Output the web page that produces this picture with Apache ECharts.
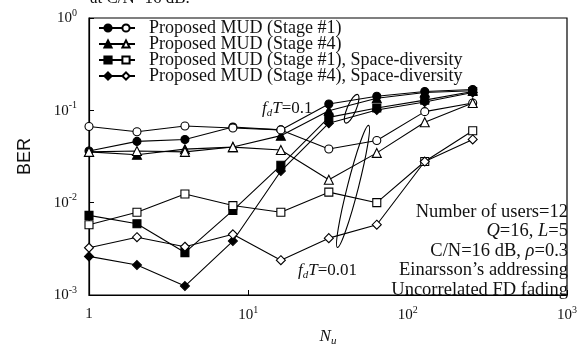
<!DOCTYPE html>
<html><head><meta charset="utf-8">
<script src="https://cdn.jsdelivr.net/npm/echarts@6/dist/echarts.min.js"></script>
<style>html,body{margin:0;padding:0;background:#fff}#c{width:580px;height:352px}</style>
</head><body><div id="c"></div>
<script>
// Number of users axis values N_u
const users = [1, 2, 4, 8, 16, 32, 64, 128, 256];
// fdT = 0.1 (filled markers)
const stage1_fd01   = [0.0363, 0.0461, 0.0484, 0.066, 0.0614, 0.117, 0.142, 0.160, 0.168];
const stage4_fd01   = [0.0355, 0.033, 0.038, 0.040, 0.0532, 0.099, 0.135, 0.156, 0.163];
const stage1sd_fd01 = [0.00729, 0.0059, 0.00288, 0.00826, 0.0254, 0.0839, 0.106, 0.129, 0.160];
const stage4sd_fd01 = [0.00262, 0.00211, 0.00125, 0.00384, 0.0220, 0.0726, 0.101, 0.123, 0.156];
// fdT = 0.01 (open markers)
const stage1_fd001   = [0.0667, 0.0586, 0.0676, 0.0644, 0.0614, 0.0381, 0.0472, 0.0968, 0.120];
const stage4_fd001   = [0.0355, 0.0363, 0.0355, 0.040, 0.0372, 0.0177, 0.0346, 0.0744, 0.120];
const stage1sd_fd001 = [0.00577, 0.00787, 0.0124, 0.0093, 0.00787, 0.0130, 0.0100, 0.0279, 0.060];
const stage4sd_fd001 = [0.00325, 0.00423, 0.00333, 0.00454, 0.00238, 0.00413, 0.00577, 0.0279, 0.0484];

const legendLabels = ['Proposed MUD (Stage #1)', 'Proposed MUD (Stage #4)',
  'Proposed MUD (Stage #1), Space-diversity', 'Proposed MUD (Stage #4), Space-diversity'];
const xTickLabels = {1: '1', 10: '{b|10}{s|1}', 100: '{b|10}{s|2}', 1000: '{b|10}{s|3}'};
const yTickLabels = {0.001: '{b|10}{s|-3}', 0.01: '{b|10}{s|-2}', 0.1: '{b|10}{s|-1}', 1: '{b|10}{s|0}'};
const notes = ['Number of users=12', '{i|Q}=16, {i|L}=5', 'C/N=16 dB, {i|ρ}=0.3',
  'Einarsson\u2019s addressing', 'Uncorrelated FD fading'];
// annotation anchors in data space [N_u, BER]
const ellipseHigh = [44.5, 0.104];
const ellipseLow = [45.4, 0.0150];

const SERIF = '"Liberation Serif","DejaVu Serif",serif';
const tickRich = {
  b: {fontFamily: SERIF, fontSize: 15, color: '#111', verticalAlign: 'bottom', lineHeight: 16},
  s: {fontFamily: SERIF, fontSize: 10, color: '#111', verticalAlign: 'bottom', lineHeight: 10, padding: [0, 0, 8, 0]}
};

function mk(name, data, symbol, filled, size) {
  return {
    name, type: 'line', data: users.map((n, i) => [n, data[i]]),
    symbol, symbolSize: size, showSymbol: true, animation: false,
    lineStyle: {color: '#000', width: 1.1},
    itemStyle: {color: filled ? '#000' : '#fff', borderColor: '#000', borderWidth: 1.1},
    z: filled ? 3 : 4
  };
}
const filledNames = ['f1', 'f4', 'f1sd', 'f4sd'];
const openNames = ['o1', 'o4', 'o1sd', 'o4sd'];

const chart = echarts.init(document.getElementById('c'), null, {renderer: 'canvas'});
const legendText = {fontFamily: SERIF, fontSize: 18, lineHeight: 15, color: '#111'};
const option = {
  animation: false,
  backgroundColor: '#fff',
  grid: {left: 89, right: 5, top: 18, bottom: 45, show: true, borderColor: '#000', borderWidth: 1.2, backgroundColor: 'transparent'},
  xAxis: [{
    type: 'log', logBase: 10, min: 1, max: 1000,
    axisLine: {show: true, lineStyle: {color: '#000', width: 1.2}},
    axisTick: {show: true, inside: true, length: 5, lineStyle: {color: '#000'}},
    splitLine: {show: false},
    axisLabel: {margin: 12, formatter: v => xTickLabels[Math.round(v)] || '', rich: tickRich, fontFamily: SERIF, fontSize: 15, color: '#111'},
    name: '{n|N}{u|u}', nameLocation: 'middle', nameGap: 33,
    nameTextStyle: {rich: {
      n: {fontFamily: SERIF, fontStyle: 'italic', fontSize: 17, color: '#111', verticalAlign: 'top', lineHeight: 18},
      u: {fontFamily: SERIF, fontStyle: 'italic', fontSize: 11, color: '#111', verticalAlign: 'top', lineHeight: 12, padding: [8, 0, 0, 0]}
    }}
  }],
  yAxis: [{
    type: 'log', logBase: 10, min: 0.001, max: 1,
    axisLine: {show: true, lineStyle: {color: '#000', width: 1.2}},
    axisTick: {show: true, inside: true, length: 5, lineStyle: {color: '#000'}},
    splitLine: {show: false},
    axisLabel: {margin: 12, formatter: v => {
      const k = Object.keys(yTickLabels).find(t => Math.abs(Math.log10(+t) - Math.log10(v)) < 1e-6);
      return k ? yTickLabels[k] : '';
    }, rich: tickRich},
    name: 'BER', nameLocation: 'middle', nameGap: 55,
    nameTextStyle: {fontFamily: '"Liberation Sans",Arial,sans-serif', fontSize: 18, color: '#111'}
  }],
  legend: [{
    data: filledNames, orient: 'vertical', left: 93, top: 14, itemWidth: 18, itemHeight: 9, itemGap: -2,
    selectedMode: false, formatter: () => ' ', textStyle: Object.assign({padding: 0}, legendText)
  }, {
    data: openNames, orient: 'vertical', left: 111, top: 14, itemWidth: 18, itemHeight: 9, itemGap: -2,
    selectedMode: false, formatter: n => legendLabels[openNames.indexOf(n)],
    textStyle: Object.assign({padding: [0, 0, 0, 9]}, legendText)
  }],
  series: [
    mk('f1', stage1_fd01, 'circle', true, 8),
    mk('f4', stage4_fd01, 'triangle', true, 9),
    mk('f1sd', stage1sd_fd01, 'rect', true, 8),
    mk('f4sd', stage4sd_fd01, 'diamond', true, 9),
    mk('o1', stage1_fd001, 'circle', false, 8),
    mk('o4', stage4_fd001, 'triangle', false, 9),
    mk('o1sd', stage1sd_fd001, 'rect', false, 8),
    mk('o4sd', stage4sd_fd001, 'diamond', false, 9)
  ]
};
chart.setOption(option);

const p1 = chart.convertToPixel({xAxisIndex: 0, yAxisIndex: 0}, ellipseHigh);
const p2 = chart.convertToPixel({xAxisIndex: 0, yAxisIndex: 0}, ellipseLow);
const fdRich = {
  i: {fontFamily: SERIF, fontStyle: 'italic', fontSize: 17, fill: '#111', verticalAlign: 'top', lineHeight: 18},
  d: {fontFamily: SERIF, fontStyle: 'italic', fontSize: 11, fill: '#111', verticalAlign: 'top', lineHeight: 12, padding: [8, 0, 0, 0]},
  n: {fontFamily: SERIF, fontSize: 17, fill: '#111', verticalAlign: 'top', lineHeight: 18}
};
chart.setOption({
  graphic: [
    {type: 'text', left: 90, top: -10, style: {text: 'at C/N=16 dB.', font: '17px ' + SERIF, fill: '#111'}},
    {type: 'ellipse', x: p1[0], y: p1[1], rotation: -0.40, shape: {cx: 0, cy: 0, rx: 4.5, ry: 15.5},
      style: {fill: 'none', stroke: '#000', lineWidth: 1.1}, z: 10},
    {type: 'ellipse', x: p2[0], y: p2[1], rotation: -0.25, shape: {cx: 0, cy: 0, rx: 5.5, ry: 63},
      style: {fill: 'none', stroke: '#000', lineWidth: 1.1}, z: 10},
    {type: 'text', x: 262, y: 100, z: 11, style: {text: '{i|f}{d|d}{i|T}{n|=0.1}', rich: fdRich}},
    {type: 'text', x: 298, y: 262, z: 11, style: {text: '{i|f}{d|d}{i|T}{n|=0.01}', rich: fdRich}},
    {type: 'text', x: 568, y: 202, z: 11, style: {
      text: notes.map(t => '{r|' + t.replace(/\{i\|([^}]*)\}/g, '}{i|$1}{r|') + '}').join('\n'),
      align: 'right', lineHeight: 19.5,
      rich: {
        r: {fontFamily: SERIF, fontSize: 18.5, fill: '#111', lineHeight: 19.5},
        i: {fontFamily: SERIF, fontStyle: 'italic', fontSize: 18.5, fill: '#111', lineHeight: 19.5}
      }}}
  ]
});
</script></body></html>
